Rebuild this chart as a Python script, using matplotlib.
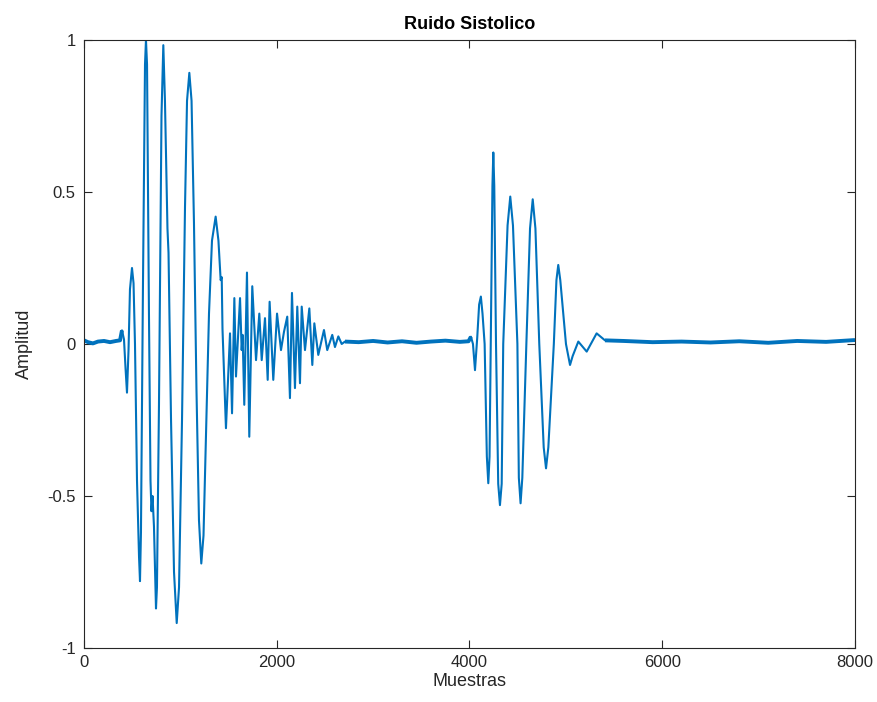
import matplotlib
matplotlib.use("Agg")
import matplotlib.pyplot as plt

plt.rcParams['font.family'] = ['Liberation Sans', 'DejaVu Sans']

# Sample positions (Muestras) and amplitudes of the key points
baseline_start_x = [0, 42, 93, 145, 208, 270, 332, 374]
baseline_start_y = [0.012, 0.006, 0.002, 0.008, 0.010, 0.006, 0.010, 0.012]

burst1_x = [394, 415, 431, 446, 462, 477, 498, 514, 529, 550, 571, 581, 591, 612, 633, 643, 654,
            674, 690, 700, 711, 726, 747, 757, 778, 804, 823, 840, 866, 877, 903, 934, 962, 986,
            1017, 1048, 1069, 1093, 1116, 1141, 1167, 1193, 1217, 1240, 1266, 1297, 1328, 1366,
            1395, 1418, 1429, 1437, 1473, 1515, 1536, 1560, 1577, 1619, 1636, 1646, 1663, 1691,
            1715, 1746, 1785, 1819, 1844, 1878, 1906, 1926, 1964, 2003, 2044, 2075, 2109, 2137,
            2158, 2189, 2213, 2241, 2259, 2293, 2338, 2369, 2390, 2431, 2490, 2524, 2576, 2604,
            2639, 2674, 2708]
burst1_y = [0.045, 0.015, -0.08, -0.16, -0.02, 0.18, 0.25, 0.20, 0.0, -0.45, -0.70, -0.78, -0.62,
            0.20, 0.92, 1.0, 0.92, 0.10, -0.45, -0.55, -0.50, -0.60, -0.87, -0.80, -0.20, 0.75,
            0.983, 0.80, 0.38, 0.30, -0.25, -0.75, -0.918, -0.80, -0.25, 0.45, 0.80, 0.892, 0.80,
            0.40, -0.15, -0.58, -0.722, -0.63, -0.30, 0.10, 0.34, 0.419, 0.34, 0.21, 0.22, 0.05,
            -0.277, 0.035, -0.228, 0.151, -0.107, 0.151, -0.02, 0.03, -0.20, 0.235, -0.305, 0.19,
            -0.053, 0.10, -0.053, 0.085, -0.118, 0.139, -0.118, 0.10, -0.02, 0.04, 0.09, -0.178,
            0.168, -0.145, 0.123, -0.129, 0.123, -0.02, 0.117, -0.069, 0.068, -0.036, 0.046,
            -0.02, 0.03, -0.01, 0.025, 0.0, 0.008]

baseline_mid_x = [2850, 3000, 3150, 3300, 3450, 3600, 3750, 3900, 3990]
baseline_mid_y = [0.006, 0.010, 0.005, 0.009, 0.004, 0.008, 0.011, 0.007, 0.009]

burst2_x = [4015, 4036, 4057, 4080, 4100, 4118, 4135, 4157, 4180, 4195, 4208, 4220, 4238, 4247,
            4257, 4275, 4298, 4316, 4334, 4350, 4395, 4423, 4451, 4497, 4512, 4530, 4548, 4590,
            4628, 4656, 4684, 4724, 4770, 4794, 4818, 4875, 4902, 4921, 4942, 5001, 5043, 5070,
            5129, 5216, 5319, 5406]
burst2_y = [0.024, 0.0, -0.086, 0.02, 0.13, 0.156, 0.10, 0.0, -0.37, -0.458, -0.37, 0.0, 0.52,
            0.63, 0.52, 0.0, -0.46, -0.53, -0.46, 0.0, 0.39, 0.485, 0.39, 0.0, -0.44, -0.524,
            -0.44, 0.0, 0.38, 0.476, 0.38, 0.0, -0.34, -0.409, -0.34, 0.0, 0.21, 0.26, 0.21, 0.0,
            -0.069, -0.04, 0.008, -0.025, 0.035, 0.012]

baseline_end_x = [5600, 5900, 6200, 6500, 6800, 7100, 7400, 7700, 8000]
baseline_end_y = [0.010, 0.006, 0.008, 0.005, 0.009, 0.004, 0.010, 0.007, 0.013]

xticks = [0, 2000, 4000, 6000, 8000]
yticks = [-1, -0.5, 0, 0.5, 1]
yticklabels = ['-1', '-0.5', '0', '0.5', '1']

color = '#0072BD'

x = baseline_start_x + burst1_x + baseline_mid_x + burst2_x + baseline_end_x
y = baseline_start_y + burst1_y + baseline_mid_y + burst2_y + baseline_end_y

fig = plt.figure(figsize=(8.78, 7.02), dpi=100)
ax = fig.add_axes([84 / 878, 54 / 702, 771 / 878, 608 / 702])

ax.plot(x, y, color=color, lw=1.5, solid_joinstyle='round')
# quiet (noisy) stretches drawn as a thicker band
for qx, qy in [(baseline_start_x + burst1_x[:1], baseline_start_y + burst1_y[:1]),
               (burst1_x[-1:] + baseline_mid_x + burst2_x[:1], burst1_y[-1:] + baseline_mid_y + burst2_y[:1]),
               (burst2_x[-1:] + baseline_end_x, burst2_y[-1:] + baseline_end_y)]:
    ax.plot(qx, qy, color=color, lw=2.8, solid_capstyle='butt')

ax.set_xlim(0, 8000)
ax.set_ylim(-1, 1)
ax.set_xticks(xticks)
ax.set_yticks(yticks)
ax.set_yticklabels(yticklabels)
ax.tick_params(direction='in', length=6, width=0.8, top=True, right=True,
               labelsize=12, colors='#262626')
ax.tick_params(axis='x', pad=5)
ax.tick_params(axis='y', pad=6)
for sp in ax.spines.values():
    sp.set_color('#262626')
    sp.set_linewidth(0.8)

ax.set_xlabel('Muestras', fontsize=13, color='#262626', labelpad=2)
ax.set_ylabel('Amplitud', fontsize=13, color='#262626', labelpad=10)
ax.set_title('Ruido Sistolico', fontsize=13, fontweight='bold', color='black', pad=8)

fig.savefig('out.png', dpi=100)
